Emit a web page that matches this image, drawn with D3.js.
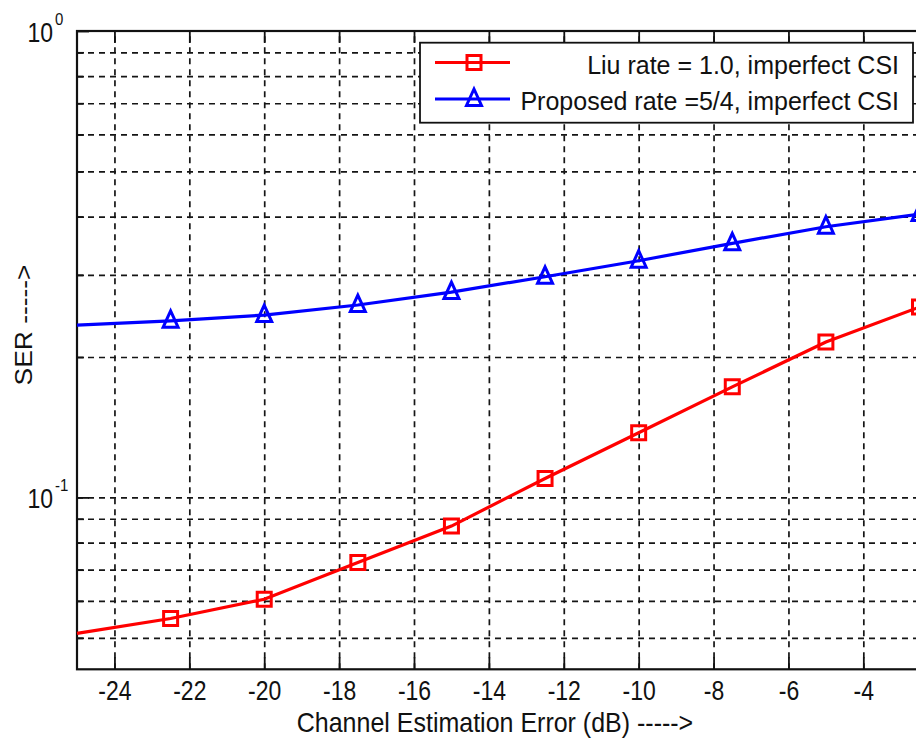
<!DOCTYPE html>
<html>
<head>
<meta charset="utf-8">
<script src="https://cdn.jsdelivr.net/npm/d3@7"></script>
<style>
  body { margin: 0; background: #fff; }
  text { font-family: "Liberation Sans", Arial, sans-serif; fill: #111; }
</style>
</head>
<body>
<svg id="chart" width="916" height="740"></svg>
<script>
// Channel estimation error (dB) at which SER was evaluated
const errDb = [-25, -22.5, -20, -17.5, -15, -12.5, -10, -7.5, -5, -2.5];
// Symbol error rate, Liu scheme (rate 1.0, imperfect CSI)
const liuSer = [0.0511, 0.0550, 0.0605, 0.0725, 0.0868, 0.1098, 0.1376, 0.1726, 0.2153, 0.2559];
// Symbol error rate, proposed scheme (rate 5/4, imperfect CSI)
const proposedSer = [0.2342, 0.2391, 0.2460, 0.2585, 0.2756, 0.2972, 0.3217, 0.3505, 0.3805, 0.405];

const seriesNames = ["Liu rate = 1.0, imperfect CSI", "Proposed rate =5/4, imperfect CSI"];
const seriesColors = ["#ff0000", "#0000ff"];
const seriesMarkers = ["square", "triangle"];

const xTicks = [-24, -22, -20, -18, -16, -14, -12, -10, -8, -6, -4];
const yMajor = [0.1, 1];
const yMinor = [0.05, 0.06, 0.07, 0.08, 0.09, 0.2, 0.3, 0.4, 0.5, 0.6, 0.7, 0.8, 0.9];

const xLabel = "Channel Estimation Error (dB) ----->";
const yLabel = "SER ----->";

const plot = { left: 77, right: 919.5, top: 31, bottom: 669.3 };
const plotH = plot.bottom - plot.top;
const plotW = plot.right - plot.left;

const x = d3.scaleLinear().domain([-25, -2.5]).range([plot.left, plot.right]);
const y = d3.scaleLog().domain([0.0428, 1]).range([plot.bottom, plot.top]);

const svg = d3.select("#chart");
svg.append("rect").attr("width", 916).attr("height", 740).attr("fill", "#fff");

// dashed grid
const gridStyle = g => {
  g.select(".domain").remove();
  g.selectAll("line").attr("stroke", "#151515").attr("stroke-width", 1.7).attr("stroke-dasharray", "6,5");
};
svg.append("g")
  .attr("transform", `translate(0,${plot.bottom})`)
  .call(d3.axisBottom(x).tickValues(xTicks).tickSize(-plotH).tickFormat(""))
  .call(gridStyle);
svg.append("g")
  .attr("transform", `translate(${plot.left},0)`)
  .call(d3.axisLeft(y).tickValues(yMinor.concat([0.1])).tickSize(-plotW).tickFormat(""))
  .call(gridStyle);

// ticks pointing into the plot
const tickStyle = g => {
  g.select(".domain").remove();
  g.selectAll("line").attr("stroke", "#111").attr("stroke-width", 1.8);
};
svg.append("g")
  .attr("transform", `translate(0,${plot.bottom})`)
  .call(d3.axisBottom(x).tickValues(xTicks).tickSizeInner(-12).tickSizeOuter(0).tickFormat(d => String(d)))
  .call(tickStyle)
  .call(g => g.selectAll("text")
    .attr("y", null).attr("dy", null)
    .attr("transform", "translate(0,31) scale(1,1.18)")
    .attr("font-size", 23).attr("fill", "#111"));
svg.append("g")
  .attr("transform", `translate(0,${plot.top})`)
  .call(d3.axisTop(x).tickValues(xTicks).tickSizeInner(-12).tickSizeOuter(0).tickFormat(""))
  .call(tickStyle);
svg.append("g")
  .attr("transform", `translate(${plot.left},0)`)
  .call(d3.axisLeft(y).tickValues(yMinor).tickSizeInner(-7).tickSizeOuter(0).tickFormat(""))
  .call(tickStyle);
svg.append("g")
  .attr("transform", `translate(${plot.left},0)`)
  .call(d3.axisLeft(y).tickValues(yMajor).tickSizeInner(-12).tickSizeOuter(0).tickFormat(""))
  .call(tickStyle)
  .call(g => g.selectAll(".tick").each(function (d) {
    const t = d3.select(this);
    const exp = Math.round(Math.log10(d));
    t.append("text")
      .attr("text-anchor", "end")
      .attr("transform", "translate(-24,10) scale(1,1.18)")
      .attr("font-size", 23).attr("fill", "#111")
      .text("10");
    t.append("text")
      .attr("text-anchor", "start")
      .attr("transform", "translate(-22,-7) scale(1,1.15)")
      .attr("font-size", 15).attr("fill", "#111")
      .text(String(exp));
  }));

// axes frame
svg.append("rect")
  .attr("x", plot.left).attr("y", plot.top)
  .attr("width", plotW).attr("height", plotH)
  .attr("fill", "none").attr("stroke", "#111").attr("stroke-width", 2.2);

// data series
const series = [liuSer, proposedSer].map((vals, i) => ({
  name: seriesNames[i],
  color: seriesColors[i],
  marker: seriesMarkers[i],
  points: errDb.map((e, j) => [e, vals[j]])
}));

const markerPath = {
  square: "M-7,-7H7V7H-7Z",
  triangle: "M0,-10L7.5,6.5H-7.5Z"
};

const line = d3.line().x(d => x(d[0])).y(d => y(d[1]));
series.forEach(s => {
  svg.append("path")
    .datum(s.points)
    .attr("d", line)
    .attr("fill", "none")
    .attr("stroke", s.color)
    .attr("stroke-width", 3.2);
  svg.append("g").selectAll("path")
    .data(s.points.filter(p => p[0] > x.domain()[0]))
    .join("path")
    .attr("transform", p => `translate(${x(p[0])},${y(p[1])})`)
    .attr("d", markerPath[s.marker])
    .attr("fill", "none")
    .attr("stroke", s.color)
    .attr("stroke-width", 3);
});

// legend
const legend = svg.append("g");
legend.append("rect")
  .attr("x", 420).attr("y", 42.7).attr("width", 493).attr("height", 80)
  .attr("fill", "#fff").attr("stroke", "#111").attr("stroke-width", 1.8);
const rowY = [62.5, 99];
series.forEach((s, i) => {
  const ly = rowY[i];
  legend.append("line")
    .attr("x1", 435).attr("x2", 510).attr("y1", ly).attr("y2", ly)
    .attr("stroke", s.color).attr("stroke-width", 3.2);
  legend.append("path")
    .attr("transform", `translate(474,${ly})`)
    .attr("d", markerPath[s.marker])
    .attr("fill", "none").attr("stroke", s.color).attr("stroke-width", 3);
  legend.append("text")
    .attr("text-anchor", "end")
    .attr("transform", `translate(899,${ly + 11}) scale(1,1.05)`)
    .attr("font-size", 25)
    .text(s.name);
});

// axis titles
svg.append("text")
  .attr("text-anchor", "middle")
  .attr("transform", "translate(495,732) scale(1,1.1)")
  .attr("font-size", 25)
  .text(xLabel);
svg.append("text")
  .attr("text-anchor", "middle")
  .attr("transform", "translate(32,325) rotate(-90) scale(1.1,1)")
  .attr("font-size", 24)
  .text(yLabel);
</script>
</body>
</html>
